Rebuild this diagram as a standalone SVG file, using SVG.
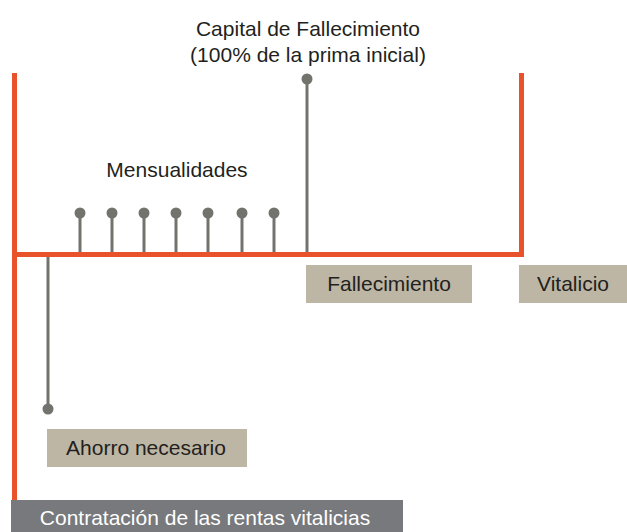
<svg xmlns="http://www.w3.org/2000/svg" width="627" height="532" viewBox="0 0 627 532">
<style>
.t{font-family:"Liberation Sans",Arial,sans-serif;font-size:21px;fill:#231f20}
.w{fill:#ffffff}
.o{stroke:#e9532b;stroke-width:5;fill:none}
.p{stroke:#73736e;stroke-width:3}
.d{fill:#73736e}
.b{fill:#bdb6a4}
</style>
<rect width="627" height="532" fill="#fff"/>
<g id="connectors">
<path class="o" d="M14.5,73 V500 M14.5,254.5 H521.5 V73"/>
<g id="mensualidades-pins">
<line class="p" x1="80" y1="213" x2="80" y2="252"/><circle class="d" cx="80" cy="213" r="5.5"/>
<line class="p" x1="112" y1="213" x2="112" y2="252"/><circle class="d" cx="112" cy="213" r="5.5"/>
<line class="p" x1="144" y1="213" x2="144" y2="252"/><circle class="d" cx="144" cy="213" r="5.5"/>
<line class="p" x1="176" y1="213" x2="176" y2="252"/><circle class="d" cx="176" cy="213" r="5.5"/>
<line class="p" x1="208" y1="213" x2="208" y2="252"/><circle class="d" cx="208" cy="213" r="5.5"/>
<line class="p" x1="242" y1="213" x2="242" y2="252"/><circle class="d" cx="242" cy="213" r="5.5"/>
<line class="p" x1="274" y1="213" x2="274" y2="252"/><circle class="d" cx="274" cy="213" r="5.5"/>
</g>
<line class="p" x1="307" y1="79" x2="307" y2="252"/><circle class="d" cx="307" cy="79" r="5.5"/>
<line class="p" x1="48" y1="257" x2="48" y2="409"/><circle class="d" cx="48" cy="409" r="5.5"/>
</g>
<g id="capital">
<text class="t" x="308" y="36" text-anchor="middle">Capital de Fallecimiento</text>
<text class="t" x="308" y="62" text-anchor="middle">(100% de la prima inicial)</text>
</g>
<g id="mensualidades"><text class="t" x="177" y="177" text-anchor="middle">Mensualidades</text></g>
<g id="fallecimiento"><rect class="b" x="306" y="265" width="166" height="38"/><text class="t" x="389" y="291" text-anchor="middle">Fallecimiento</text></g>
<g id="vitalicio"><rect class="b" x="519" y="265" width="108" height="38"/><text class="t" x="573" y="291" text-anchor="middle">Vitalicio</text></g>
<g id="ahorro"><rect class="b" x="47" y="429" width="200" height="38"/><text class="t" x="146" y="455" text-anchor="middle">Ahorro necesario</text></g>
<g id="contratacion"><rect fill="#77797c" x="11" y="500" width="392" height="32"/><text class="t w" x="205" y="525" text-anchor="middle">Contratación de las rentas vitalicias</text></g>
</svg>
